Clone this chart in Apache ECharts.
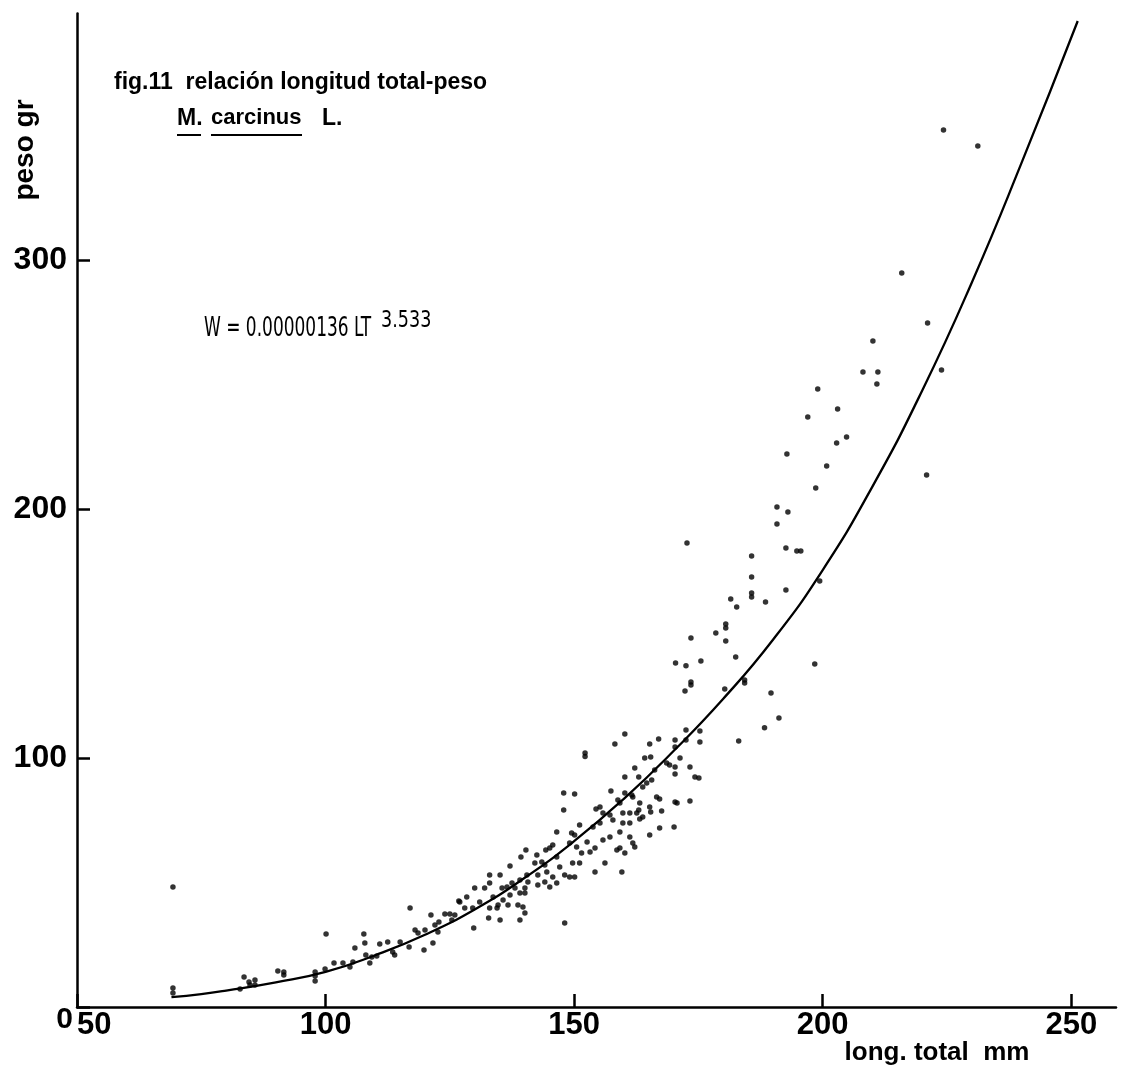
<!DOCTYPE html>
<html>
<head>
<meta charset="utf-8">
<script src="https://cdn.jsdelivr.net/npm/echarts@6/dist/echarts.min.js"></script>
<style>html,body{margin:0;padding:0;background:#fff}#c{width:1121px;height:1073px}</style>
</head>
<body>
<div id="c"></div>
<script>
// Fitted curve W = 0.00000136 LT^3.533
const curveLT = [69, 75, 80, 90, 100, 110, 120, 130, 140, 150, 160, 170, 180, 190, 200, 210, 220, 230, 240, 251.3];
const curveW  = [4.0, 5.2, 6.6, 9.9, 14.1, 20.8, 29.0, 39.2, 51.8, 66.6, 83.6, 102.8, 123.8, 147.5, 175.5, 209.0, 247.5, 291.0, 339.0, 396.0];

// Observed individuals [long. total mm, peso gr]
const samplesSmall = [
 [69.3,48.2],[69.3,7.6],[69.3,5.6],[83.6,12.0],[82.8,7.2],[84.6,10.0],[85.8,10.8],[84.8,8.8],[85.8,8.8],
 [90.4,14.5],[91.6,14.1],[91.6,12.9],[100.1,29.3],[97.9,14.1],[97.9,10.4],[97.9,12.4],[99.9,15.3],
 [101.7,17.7],[103.5,17.7],[104.9,16.1],[105.9,23.7],[105.5,18.1],[107.7,29.3],[107.9,25.7],[108.1,20.9],
 [108.9,17.7],[109.3,20.1],[110.3,20.5],[110.9,25.3],[112.5,26.1],[113.5,22.1],[113.9,20.9],[115.0,26.1],
 [117.0,39.8],[116.8,24.1],[118.0,30.9],[118.6,29.7],[119.8,22.9],[120.0,30.9],[121.2,36.9],[121.6,25.7],
 [122.0,32.9],[122.6,30.1],[122.8,34.1],[124.0,37.3],[125.0,37.3],[126.0,36.9],[125.4,34.9],[126.8,42.6]
];
const samplesMid = [
 [154.4,79.5],[146.5,70.3],[150.1,69.1],[149.1,65.9],[150.5,64.3],[152.6,66.3],[153.2,62.2],[154.2,63.9],
 [140.3,63.1],[139.3,60.2],[142.5,61.0],[144.3,63.1],[145.1,63.9],[145.7,65.1],[137.1,56.6],[142.1,57.8],
 [143.5,58.2],[144.1,57.0],[146.5,60.2],[147.1,56.2],[149.7,57.8],[151.1,57.8],[154.2,54.2],[133.0,53.0],
 [135.1,53.0],[140.5,53.0],[142.7,53.0],[144.5,54.2],[145.7,52.2],[148.1,53.0],[149.1,52.2],[150.1,52.2],
 [133.0,49.8],[137.5,49.8],[139.1,51.0],[140.7,50.2],[142.7,49.0],[144.1,50.2],[145.1,48.2],[146.5,49.8],
 [130.0,47.8],[132.0,47.8],[135.5,47.8],[136.5,48.2],[138.1,47.8],[140.1,47.8],[128.4,44.2],[131.0,42.2],
 [133.7,44.2],[135.7,43.0],[137.1,45.0],[139.1,45.8],[140.1,45.8],[127.0,42.2],[134.7,41.0],[136.7,41.0],
 [138.7,41.0],[139.7,40.2],[128.0,39.8],[129.6,39.8],[133.0,39.8],[134.5,39.8],
 [129.8,31.7],[132.8,35.7],[135.1,34.9],[139.1,34.9],[140.1,37.8],[148.1,33.7],[147.9,85.9],[150.1,85.5],
 [147.9,79.1],[152.2,102.0],[152.2,100.6],[151.1,73.1],[151.5,61.8],[149.5,69.9]
];
const samplesUpperMid = [
 [158.2,105.6],[160.2,109.6],[165.2,105.6],[167.0,107.6],[170.3,107.2],[170.3,104.4],[172.5,111.2],[172.5,107.2],
 [175.3,110.8],[175.3,106.4],[164.2,100.0],[165.4,100.4],[171.3,100.0],[160.2,92.4],[163.0,92.4],[162.2,96.0],
 [166.2,95.2],[169.2,97.2],[170.3,96.4],[173.3,96.4],[174.3,92.4],[175.1,92.0],[170.3,93.6],[164.6,90.0],
 [157.4,86.7],[160.2,85.9],[161.6,85.1],[166.6,84.3],[167.2,83.5],[170.3,82.3],[170.7,81.9],[173.3,82.7],
 [167.6,78.7],[165.2,80.3],[163.2,81.9],[163.0,79.1],[162.6,77.9],[165.4,78.3],[155.2,80.3],[155.8,77.9],
 [157.2,77.1],[159.2,81.9],[159.8,77.9],[161.2,77.9],[157.8,75.1],[159.8,73.9],[161.2,73.9],[163.2,75.5],
 [163.8,76.3],[155.2,73.9],[153.8,72.3],[167.2,71.9],[170.1,72.3],
 [155.8,67.1],[156.2,57.8],[157.2,68.3],[158.6,63.1],[159.2,70.3],[159.6,54.2],[160.2,61.8],[161.2,68.3],
 [162.2,64.3],[165.2,69.1],[161.8,65.9],[159.2,63.9],[158.8,83.1],[161.8,84.3],[163.8,88.4],[165.6,91.2],
 [168.6,98.0]
];
const samplesLarge = [
 [190.8,200.8],[193.0,198.8],[190.8,194.0],[192.6,184.3],[194.8,183.1],[195.6,183.1],[172.7,186.3],
 [185.7,181.1],[185.7,172.7],[185.7,166.3],[185.7,164.7],[192.6,167.5],[199.4,171.1],[181.5,163.9],
 [182.7,160.6],[188.5,162.7],[180.5,153.8],[180.5,152.2],[178.5,150.2],[180.5,147.0],[173.5,148.2],
 [182.5,140.6],[170.4,138.2],[172.5,137.0],[175.5,139.0],[173.5,130.5],[173.5,129.3],[172.3,126.9],
 [180.3,127.7],[184.3,131.3],[184.3,130.1],[198.4,137.8],[189.6,126.1],[191.2,116.1],[188.3,112.1],
 [183.1,106.8],[224.3,352.2],[231.2,345.8],[215.9,294.8],[221.1,274.7],[223.9,255.8],[220.9,213.7],
 [210.1,267.5],[208.1,255.0],[211.1,255.0],[210.9,250.2],[199.0,248.2],[203.0,240.2],[197.0,237.0],
 [204.8,228.9],[202.8,226.5],[192.8,222.1],[200.8,217.3],[198.6,208.4]
];

const xTickLabels = ['50', '100', '150', '200', '250'];
const yTickLabels = ['0', '100', '200', '300'];

const samples = samplesSmall.concat(samplesMid, samplesUpperMid, samplesLarge);
const curve = curveLT.map((v, i) => [v, curveW[i]]);

const FONT = "'Liberation Sans', Arial, sans-serif";
const NARROW = "'Liberation Sans Narrow', 'DejaVu Sans Condensed', sans-serif";
const chart = echarts.init(document.getElementById('c'), null, {renderer: 'canvas'});
chart.setOption({
  backgroundColor: '#ffffff',
  animation: false,
  grid: {left: 77, right: 5, top: 13.5, bottom: 66, containLabel: false},
  xAxis: {
    type: 'value', min: 50, max: 259, interval: 50,
    splitLine: {show: false},
    axisLine: {show: true, onZero: false, lineStyle: {color: '#000', width: 2.5}},
    axisTick: {show: true, inside: true, length: 13, lineStyle: {color: '#000', width: 2.5}},
    axisLabel: {
      margin: 3, color: '#000', fontFamily: FONT, fontWeight: 'bold', fontSize: 31,
      alignMinLabel: 'left', showMaxLabel: false,
      formatter: v => xTickLabels.indexOf(String(v)) >= 0 ? String(v) : ''
    }
  },
  yAxis: {
    type: 'value', min: 0, max: 399, interval: 100,
    splitLine: {show: false},
    axisLine: {show: true, onZero: false, lineStyle: {color: '#000', width: 2.5}},
    axisTick: {show: true, inside: true, length: 13, lineStyle: {color: '#000', width: 2.5}},
    axisLabel: {
      margin: 10, color: '#000', fontFamily: FONT, fontWeight: 'bold', fontSize: 32,
      showMaxLabel: false,
      formatter: v => {
        const s = String(v);
        if (yTickLabels.indexOf(s) < 0) return '';
        return v === 0 ? '{z|0}' : s;
      },
      rich: {z: {fontFamily: FONT, fontWeight: 'bold', fontSize: 30, color: '#000', padding: [26, -6, 0, 0]}}
    }
  },
  series: [
    {
      type: 'scatter', data: samples, symbol: 'circle', symbolSize: 5.5,
      itemStyle: {color: '#000'}, z: 3
    },
    {
      type: 'line', data: curve, smooth: true, showSymbol: false, symbol: 'none',
      lineStyle: {color: '#000', width: 2.3}, z: 4
    }
  ],
  graphic: [
    {type: 'text', left: 114, top: 71, style: {text: 'fig.11  relación longitud total-peso', fill: '#000', font: "bold 23px " + FONT}},
    {type: 'text', left: 177, top: 107, style: {text: 'M.', fill: '#000', font: "bold 23px " + FONT}},
    {type: 'text', left: 211, top: 107, style: {text: 'carcinus', fill: '#000', font: "bold 22px " + FONT}},
    {type: 'text', left: 322, top: 107, style: {text: 'L.', fill: '#000', font: "bold 23px " + FONT}},
    {type: 'line', shape: {x1: 177, y1: 135, x2: 201, y2: 135}, style: {stroke: '#000', lineWidth: 2}},
    {type: 'line', shape: {x1: 211, y1: 135, x2: 302, y2: 135}, style: {stroke: '#000', lineWidth: 2}},
    {type: 'text', x: 204, y: 315, scaleX: 0.7, style: {text: 'W = 0.00000136 LT', fill: '#000', font: "27px " + NARROW}},
    {type: 'text', x: 381, y: 310, scaleX: 0.85, style: {text: '3.533', fill: '#000', font: "23px " + NARROW}},
    {type: 'text', x: 25, y: 150, rotation: Math.PI / 2, style: {text: 'peso gr', fill: '#000', font: "bold 28px " + FONT, align: 'center', verticalAlign: 'middle'}},
    {type: 'text', x: 937, y: 1053, style: {text: 'long. total  mm', fill: '#000', font: "bold 26px " + FONT, align: 'center', verticalAlign: 'middle'}}
  ]
});
</script>
</body>
</html>
